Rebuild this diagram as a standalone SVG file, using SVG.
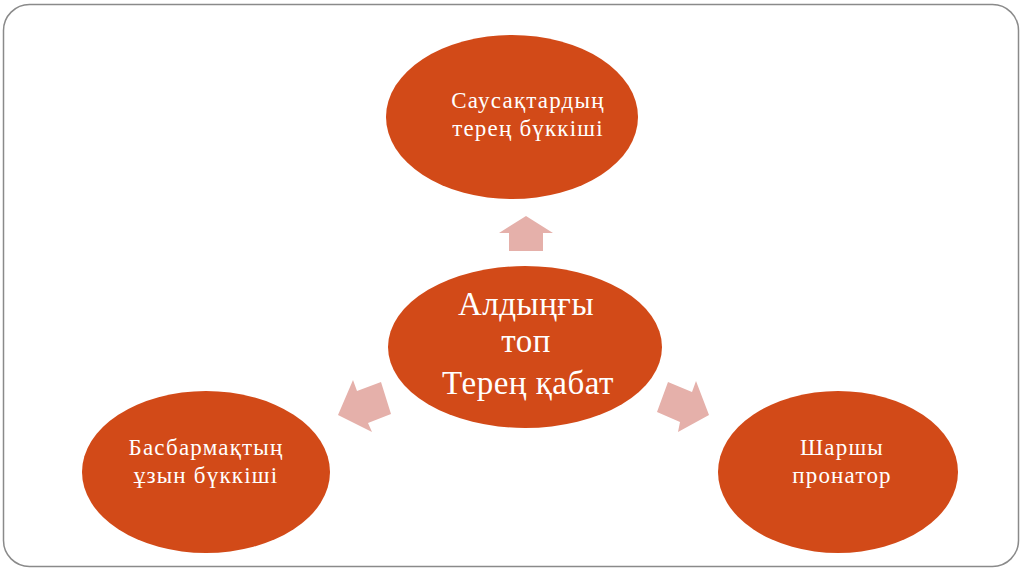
<svg xmlns="http://www.w3.org/2000/svg" width="1024" height="574" viewBox="0 0 1024 574">
<style>
.node{fill:#D24A18}
.arrow{fill:#E5B0AA}
.t{font-family:"Liberation Serif","Times New Roman",serif;fill:#FFFFFF;text-anchor:middle}
.s{font-size:23px;letter-spacing:1.2px}
.b{font-size:33px;letter-spacing:0.5px}
</style>
<rect x="0" y="0" width="1024" height="574" fill="#FFFFFF"/>
<rect x="3.5" y="4.5" width="1015" height="562" rx="26" ry="26" fill="none" stroke="#8A8A8A" stroke-width="1.5"/>
<g id="connectors">
<polygon class="arrow" points="526,216 553,233 543,233 543,251 509,251 509,233 499,233"/>
<polygon class="arrow" points="338,415 353,380 357,391 381,382 391,414 368,423 372,432"/>
<polygon class="arrow" points="709,415 696,381 692,392 668,382 657,412 680,422 678,432"/>
</g>
<g id="node-top">
<ellipse class="node" cx="512" cy="117" rx="126" ry="82"/>
<text class="t s" x="528" y="108">Саусақтардың</text>
<text class="t s" x="528" y="136">терең бүккіші</text>
</g>
<g id="node-center">
<ellipse class="node" cx="525" cy="347" rx="137" ry="81"/>
<text class="t b" x="526" y="315">Алдыңғы</text>
<text class="t b" x="526" y="352">топ</text>
<text class="t b" x="528" y="394">Терең қабат</text>
</g>
<g id="node-left">
<ellipse class="node" cx="206" cy="472" rx="124" ry="81"/>
<text class="t s" x="206" y="455">Басбармақтың</text>
<text class="t s" x="206" y="483">ұзын бүккіші</text>
</g>
<g id="node-right">
<ellipse class="node" cx="838" cy="472" rx="120" ry="81"/>
<text class="t s" x="842" y="455">Шаршы</text>
<text class="t s" x="842" y="483">пронатор</text>
</g>
</svg>
